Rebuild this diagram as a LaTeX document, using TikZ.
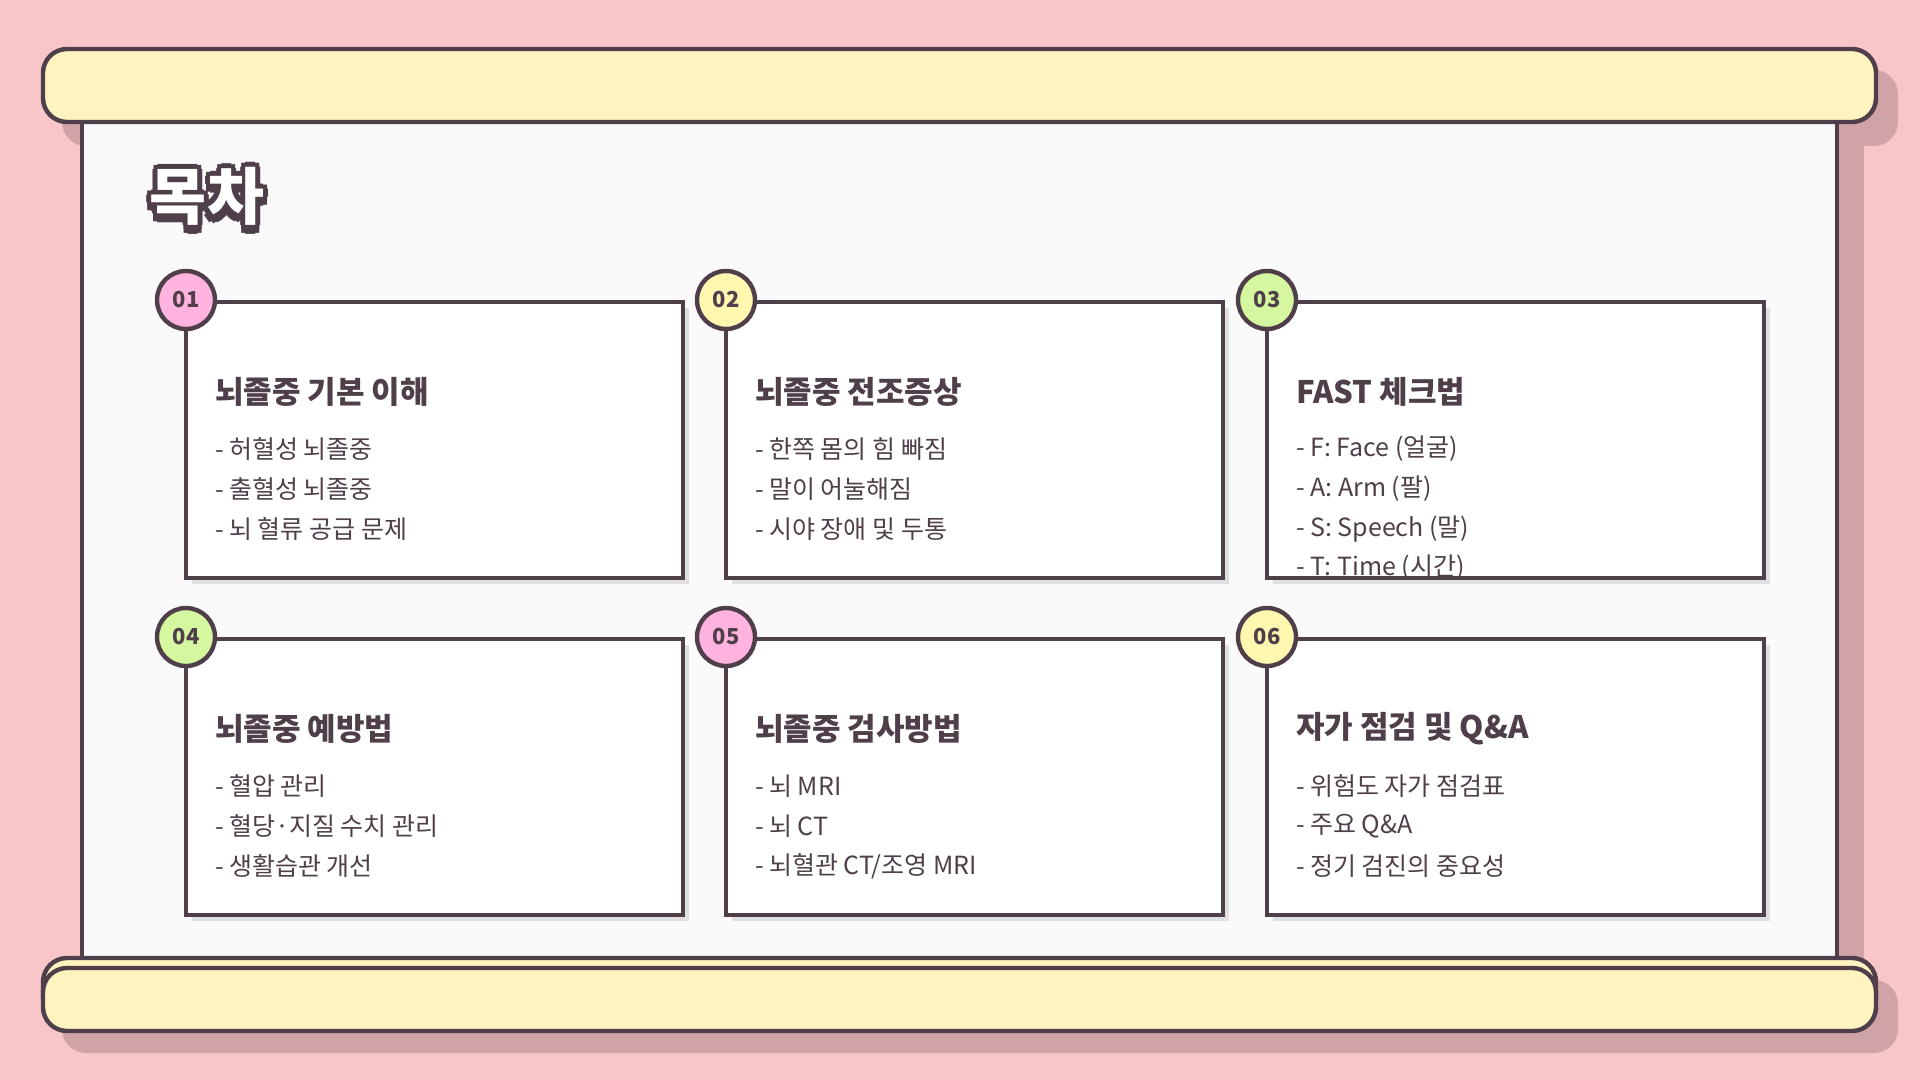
\documentclass[tikz,border=0pt]{standalone}
\usepackage{fontspec}
\newfontfamily\kr{Noto Sans CJK KR}
\begin{document}
\begin{tikzpicture}[x=0.5pt,y=-0.5pt,
  ink/.style={draw=dk,line width=2.2pt},
  card/.style={ink,fill=white},
  num/.style={circle,ink,minimum size=29pt,inner sep=0pt,font=\kr\bfseries\fontsize{11}{11}\selectfont,text=dk},
  head/.style={anchor=west,font=\kr\bfseries\fontsize{15.5}{15.5}\selectfont,text=dk},
  item/.style={anchor=west,font=\kr\fontsize{12.5}{12.5}\selectfont,text=dk},
  ttl/.style={font=\kr\bfseries\fontsize{31}{31}\selectfont}]
\definecolor{dk}{HTML}{4E3F4A}
\definecolor{bg}{HTML}{F8C6C8}
\definecolor{sh}{HTML}{D0A4A6}
\definecolor{ylw}{HTML}{FFF4C0}
\definecolor{pk}{HTML}{FFB3DE}
\definecolor{yl}{HTML}{FFF6B0}
\definecolor{gr}{HTML}{D4F7A0}
\fill[bg] (0,0) rectangle (1920,1080);
\useasboundingbox (0,0) rectangle (1920,1080);
% shadows
\fill[sh,rounded corners=12pt] (62,70) rectangle (1898,146);
\fill[sh] (1837,140) rectangle (1864,960);
\fill[sh,rounded corners=12pt] (62,980) rectangle (1898,1053);
% board
\draw[ink,fill=white!98!black] (82,110) rectangle (1837,970);
% top bar
\draw[ink,fill=ylw,rounded corners=12pt] (43,49) rectangle (1876,122);
% bottom bars
\draw[ink,fill=ylw,rounded corners=12pt] (43,958) rectangle (1876,1020);
\draw[ink,fill=ylw,rounded corners=12pt] (43,968) rectangle (1876,1031);
% title outline
\foreach \dx/\dy in {0/9,4/8,-4/8,5/0,-5/0,0/-5,4/4,-4/4,4/-4,-4/-4}
  \node[ttl,text=dk] at (207+\dx,196+\dy) {목차};
\node (title) [ttl,text=white] at (207,196) {목차};
% cards
\foreach \i/\x/\y/\c/\n in {1/186/302/pk/01,2/726/302/yl/02,3/1267/302/gr/03,4/186/639/gr/04,5/726/639/pk/05,6/1267/639/yl/06}{
  \fill[black!12] (\x+6,\y+6) rectangle (\x+503,\y+282);
  \draw[card] (\x,\y) rectangle (\x+497,\y+276);
  \node[num,fill=\c] (n\i) at (\x,\y-2) {\n};
}
\node[head] (h1) at (208,392) {뇌졸중 기본 이해};
\node[item] at (208,449) {- 허혈성 뇌졸중};
\node[item] at (208,489) {- 출혈성 뇌졸중};
\node[item] at (208,529) {- 뇌 혈류 공급 문제};
\node[head] (h2) at (748,392) {뇌졸중 전조증상};
\node[item] at (748,449) {- 한쪽 몸의 힘 빠짐};
\node[item] at (748,489) {- 말이 어눌해짐};
\node[item] at (748,529) {- 시야 장애 및 두통};
\node[head] (h3) at (1289,392) {FAST 체크법};
\node[item] at (1289,449) {- F: Face (얼굴)};
\node[item] at (1289,489) {- A: Arm (팔)};
\node[item] at (1289,529) {- S: Speech (말)};
\begin{scope}
\clip (1267,545) rectangle (1764,580);
\node[item] at (1289,568) {- T: Time (시간)};
\end{scope}
\draw[ink] (1267,578) -- (1764,578);
\node[head] (h4) at (208,729) {뇌졸중 예방법};
\node[item] at (208,786) {- 혈압 관리};
\node[item] at (208,826) {- 혈당·지질 수치 관리};
\node[item] at (208,866) {- 생활습관 개선};
\node[head] (h5) at (748,729) {뇌졸중 검사방법};
\node[item] at (748,786) {- 뇌 MRI};
\node[item] at (748,826) {- 뇌 CT};
\node[item] at (748,866) {- 뇌혈관 CT/조영 MRI};
\node[head] (h6) at (1289,729) {자가 점검 및 Q\&A};
\node[item] at (1289,786) {- 위험도 자가 점검표};
\node[item] at (1289,826) {- 주요 Q\&A};
\node[item] at (1289,866) {- 정기 검진의 중요성};
\end{tikzpicture}
\end{document}
